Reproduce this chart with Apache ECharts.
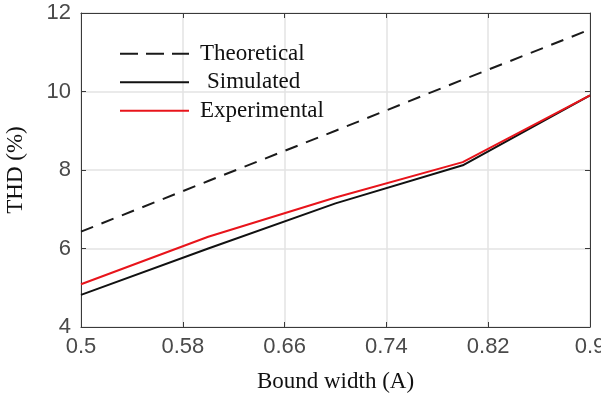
<!DOCTYPE html>
<html>
<head>
<meta charset="utf-8">
<script src="https://cdn.jsdelivr.net/npm/echarts@6/dist/echarts.min.js"></script>
<style>
  html, body { margin: 0; padding: 0; background: #fff; }
  #chart { width: 601px; height: 397px; }
</style>
</head>
<body>
<div id="chart"></div>
<script>
const boundWidth = [0.5, 0.6, 0.7, 0.8, 0.9];
const theoretical = [6.43, 7.72, 9.0, 10.3, 11.58];
const simulated = [4.82, 6.0, 7.15, 8.12, 9.9];
const experimental = [5.09, 6.3, 7.3, 8.2, 9.9];
const xTicks = [0.5, 0.58, 0.66, 0.74, 0.82, 0.9];
const yTicks = [4, 6, 8, 10, 12];

const axisColor = '#3a3a3a';
const gridColor = '#e3e3e3';
const serif = '"Liberation Serif", "DejaVu Serif", serif';
const sans = '"Liberation Sans", Arial, sans-serif';

const pairs = (ys) => boundWidth.map((x, i) => [x, ys[i]]);

const chart = echarts.init(document.getElementById('chart'));

const baseX = {
  type: 'value',
  min: xTicks[0],
  max: xTicks[xTicks.length - 1],
  interval: 0.08,
  axisLine: { show: true, lineStyle: { color: axisColor, width: 1 } },
  axisTick: { show: true, inside: true, length: 5, lineStyle: { color: axisColor } },
  splitLine: { show: false },
};
const baseY = {
  type: 'value',
  min: yTicks[0],
  max: yTicks[yTicks.length - 1],
  interval: 2,
  axisLine: { show: true, lineStyle: { color: axisColor, width: 1 } },
  axisTick: { show: true, inside: true, length: 5, lineStyle: { color: axisColor } },
  splitLine: { show: false },
};

chart.setOption({
  animation: false,
  grid: { left: 81, right: 11, top: 13, bottom: 70, containLabel: false, outerBoundsMode: 'none' },
  legend: {
    orient: 'vertical',
    left: 114,
    top: 37,
    itemWidth: 69,
    itemHeight: 14,
    itemGap: 5,
    itemStyle: { opacity: 0 },
    textStyle: { fontFamily: serif, fontSize: 23, color: '#111', lineHeight: 23.5, padding: [0, 0, 0, 6] },
    data: [
      { name: 'Theoretical', lineStyle: { type: [18, 8] } },
      { name: 'Simulated', textStyle: { padding: [0, 0, 0, 13] } },
      { name: 'Experimental' },
    ],
  },
  xAxis: [
    Object.assign({}, baseX, {
      position: 'bottom',
      name: 'Bound width (A)',
      nameLocation: 'middle',
      nameGap: 43,
      nameTextStyle: { fontFamily: serif, fontSize: 23, color: '#111' },
      splitLine: { show: true, lineStyle: { color: gridColor, width: 1.5 } },
      axisLabel: {
        margin: 9,
        fontFamily: sans,
        fontSize: 22,
        color: '#4a4a4a',
        formatter: (v) => String(Math.round(v * 100) / 100),
      },
    }),
    Object.assign({}, baseX, { position: 'top', axisLabel: { show: false } }),
  ],
  yAxis: [
    Object.assign({}, baseY, {
      position: 'left',
      name: 'THD (%)',
      nameLocation: 'middle',
      nameGap: 54,
      nameTextStyle: { fontFamily: serif, fontSize: 23, color: '#111' },
      splitLine: { show: true, lineStyle: { color: gridColor, width: 1.5 } },
      axisLabel: { margin: 10, fontFamily: sans, fontSize: 22, color: '#4a4a4a' },
    }),
    Object.assign({}, baseY, { position: 'right', axisLabel: { show: false } }),
  ],
  series: [
    {
      name: 'Theoretical',
      type: 'line',
      data: pairs(theoretical),
      symbol: 'none',
      lineStyle: { color: '#1a1a1a', width: 2, type: [13, 9] },
      itemStyle: { color: '#1a1a1a' },
    },
    {
      name: 'Simulated',
      type: 'line',
      data: pairs(simulated),
      symbol: 'none',
      lineStyle: { color: '#111', width: 2 },
      itemStyle: { color: '#111' },
    },
    {
      name: 'Experimental',
      type: 'line',
      data: pairs(experimental),
      symbol: 'none',
      lineStyle: { color: '#e8141b', width: 2 },
      itemStyle: { color: '#e8141b' },
    },
  ],
});
</script>
</body>
</html>
